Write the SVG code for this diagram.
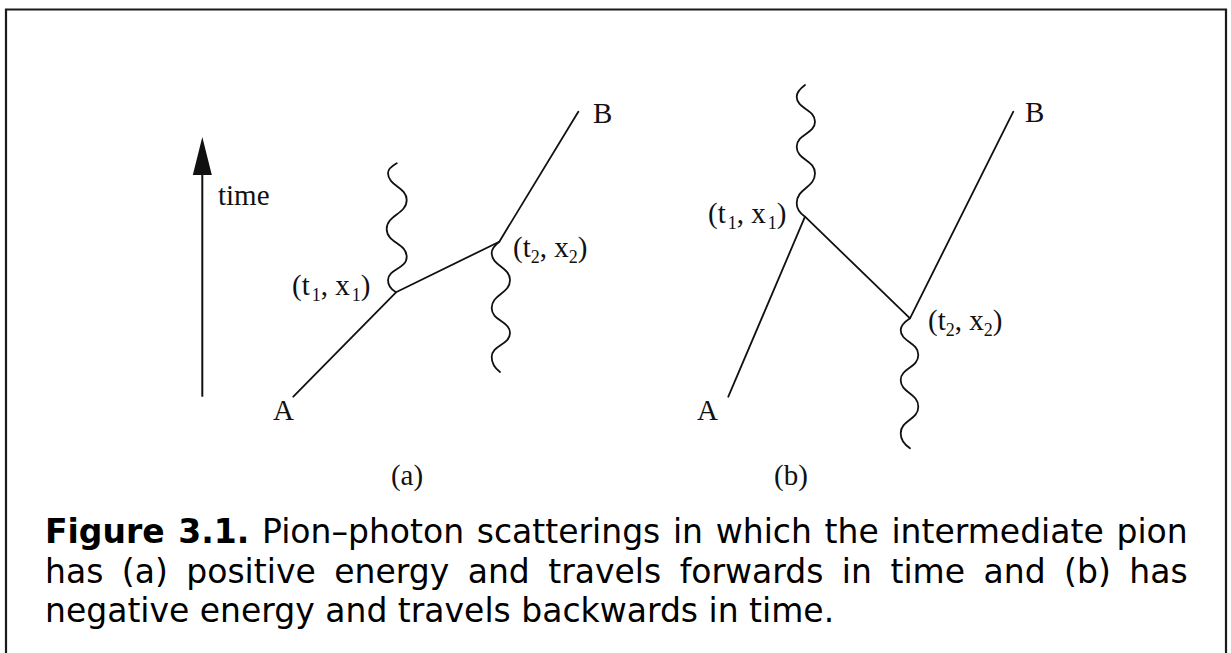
<svg xmlns="http://www.w3.org/2000/svg" width="1231" height="653" viewBox="0 0 1231 653">
<style>
.ln{fill:none;stroke:#111;stroke-width:1.8;stroke-linecap:round;stroke-linejoin:round}
.wv{fill:none;stroke:#111;stroke-width:1.8;stroke-linecap:round}
.lb{font-family:"Liberation Serif","Times New Roman",serif;font-size:29px;fill:#111}
.sb{font-size:18px}
.cap{font-family:"DejaVu Sans",Verdana,sans-serif;font-size:33px;fill:#000}
.frame{fill:none;stroke:#1a1a1a;stroke-width:2.2}
</style>
<rect width="1231" height="653" fill="#fff"/>
<path class="frame" d="M6,660 L6,9.5 L1226,9.5 L1226,660"/>

<g id="time-axis">
<line x1="202.3" y1="396.7" x2="202.3" y2="150" stroke="#111" stroke-width="2"/>
<path d="M202.3,137 L192.8,175 L211.8,175 Z" fill="#111"/>
<text class="lb" x="218" y="205">time</text>
</g>

<g id="connectors">
<polyline class="ln" points="293.3,396.7 396,292.3 499.3,241.7 578.3,111.7"/>
<path class="wv" d="M396.7,163.3 C392,166 388,169 388,173 C388,186 406.7,187 406.7,200 C406.7,214 386.7,215 386.7,229 C386.7,243 406.7,243 406.7,257 C406.7,269 388,269 388,280 C388,286 392,290 396,292.3"/>
<path class="wv" d="M499.3,241.7 C495,245 491.7,249 491.7,253 C491.7,266 510,267 510,280 C510,294 491.7,294 491.7,308 C491.7,321 510,321 510,333 C510,345 491.7,345 491.7,357 C491.7,364 496,369 500,372"/>
<polyline class="ln" points="728.3,396.7 805,216.7 910,318.3 1013.3,111.7"/>
<path class="wv" d="M805,85 C801,88 796.7,92 796.7,96.7 C796.7,109 815,109 815,121.7 C815,134 796.7,134 796.7,146.7 C796.7,160 815,160 815,173.3 C815,188 796.7,188 796.7,203.3 C796.7,209 801,214 805,216.7"/>
<path class="wv" d="M910,318.3 C906,321 900.7,325 900.7,330 C900.7,342 918.3,342 918.3,355 C918.3,368 900.7,368 900.7,380 C900.7,393 918.3,393 918.3,406.7 C918.3,420 900.7,420 900.7,433.3 C900.7,440 905,445 910,448.3"/>
</g>

<g id="a-A"><text class="lb" x="273" y="420">A</text></g>
<g id="a-B"><text class="lb" x="593" y="123">B</text></g>
<g id="a-v1"><text class="lb" x="292" y="295">(t<tspan class="sb" dx="2" dy="6">1</tspan><tspan dy="-6">, x</tspan><tspan class="sb" dx="2" dy="6">1</tspan><tspan dy="-6">)</tspan></text></g>
<g id="a-v2"><text class="lb" x="513" y="257">(t<tspan class="sb" dy="6">2</tspan><tspan dy="-6">, x</tspan><tspan class="sb" dy="6">2</tspan><tspan dy="-6">)</tspan></text></g>
<g id="a-label"><text class="lb" x="407" y="485" text-anchor="middle">(a)</text></g>

<g id="b-A"><text class="lb" x="697" y="420">A</text></g>
<g id="b-B"><text class="lb" x="1025" y="122">B</text></g>
<g id="b-v1"><text class="lb" x="708" y="223">(t<tspan class="sb" dx="2" dy="6">1</tspan><tspan dy="-6">, x</tspan><tspan class="sb" dx="2" dy="6">1</tspan><tspan dy="-6">)</tspan></text></g>
<g id="b-v2"><text class="lb" x="928" y="330">(t<tspan class="sb" dy="6">2</tspan><tspan dy="-6">, x</tspan><tspan class="sb" dy="6">2</tspan><tspan dy="-6">)</tspan></text></g>
<g id="b-label"><text class="lb" x="791" y="485" text-anchor="middle">(b)</text></g>

<g id="caption">
<text class="cap" x="45" y="543" word-spacing="2.2"><tspan font-weight="bold">Figure 3.1.</tspan> Pion–photon scatterings in which the intermediate pion</text>
<text class="cap" x="45" y="583" word-spacing="8">has (a) positive energy and travels forwards in time and (b) has</text>
<text class="cap" x="45" y="622">negative energy and travels backwards in time.</text>
</g>
</svg>
